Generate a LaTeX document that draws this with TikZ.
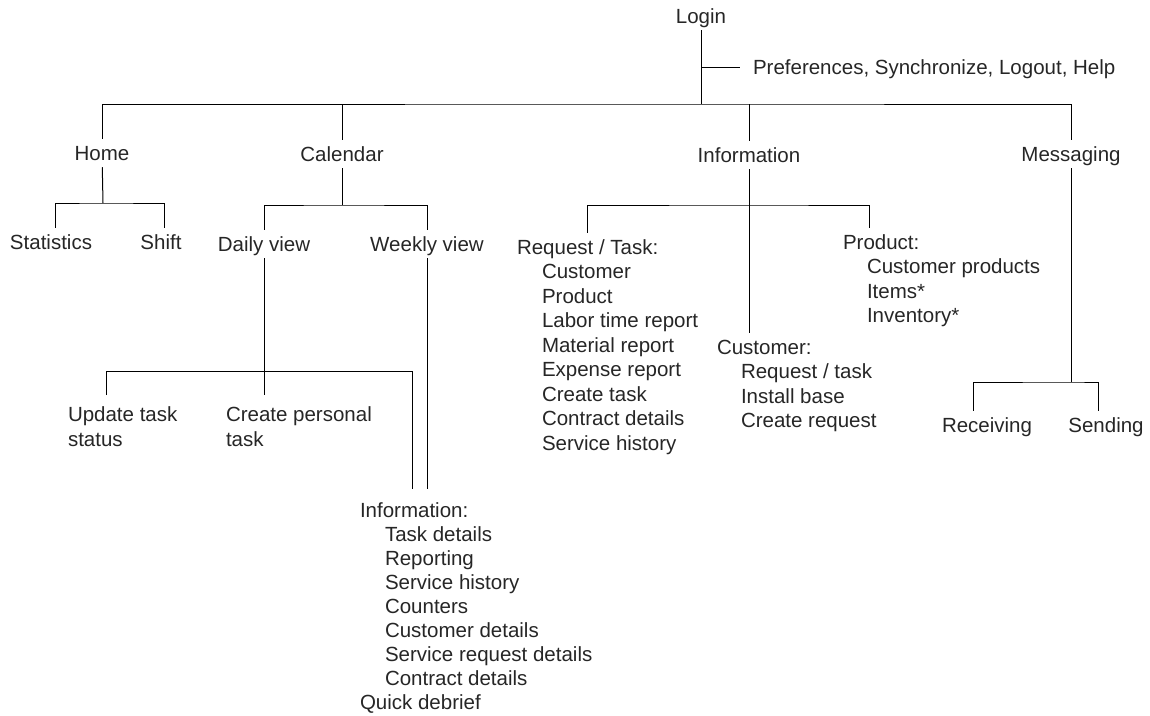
\documentclass[tikz,border=0pt]{standalone}
\usepackage{fontspec}
\setmainfont{Liberation Sans}
\usepackage{tikz}
\usetikzlibrary{calc}

\tikzset{
  lbl/.style={inner sep=0pt, outer sep=7pt, text height=14.5pt, text depth=0pt},
  sub/.style={lbl, anchor=west},
  twoline/.style={inner sep=0pt, outer sep=12pt, align=left, anchor=north west}
}

\begin{document}
\begin{tikzpicture}[x=1pt,y=-1pt,font=\fontsize{20.5}{24.5}\selectfont,line width=1pt,text=black!85]
\useasboundingbox (0,0) rectangle (1150,715);

% top level
\node[lbl] (login) at (701,16) {Login};
\node[sub] (prefs) at (746,67) {Preferences, Synchronize, Logout, Help};
\coordinate (top) at (701,104);
\node[lbl] (home) at (102,153) {Home};
\node[lbl] (cal) at (342,154) {Calendar};
\node[lbl] (info) at (749,155) {Information};
\node[lbl] (msg) at (1071,154) {Messaging};

\draw (login) -- (top);
\draw (login |- prefs) -- ([xshift=-6pt]prefs.west);
\draw (home) |- (top) -| (msg);
\draw (cal) -- (cal |- top);
\draw (info) -- (info |- top);

% home
\coordinate (hj) at (103,203);
\node[lbl] (stats) at (51,242) {Statistics};
\node[lbl] (shft) at (161,242) {Shift};
\draw (home) -- (hj);
\draw ([xshift=4pt]stats.north) |- (hj) -| ([xshift=3pt]shft.north);

% calendar
\coordinate (cj) at (342,205);
\node[lbl] (daily) at (264,244) {Daily view};
\node[lbl] (weekly) at (427,244) {Weekly view};
\draw (cal) -- (cj);
\draw (daily) |- (cj) -| (weekly);

\node[twoline] (upd) at (56,395) {Update task\\status};
\node[twoline] (cpt) at (214,395) {Create personal\\task};
\coordinate (uj) at (106,371);
\coordinate (ij) at (412,371);
\node[sub, outer sep=14pt] (ib) at (346,510) {Information:};
\draw (daily) -- (daily |- cpt.north);
\draw (uj |- upd.north) -- (uj) -- (ij) -- (ij |- ib.north);
\draw (weekly) -- (weekly |- ib.north);

\foreach \lab [count=\i] in {Task details, Reporting, Service history, Counters,
    Customer details, Service request details, Contract details}
  \node[sub] (ib\i) at (378,510+24*\i) {\lab};
\node[sub] (qd) at (353,702) {Quick debrief};

% information
\coordinate (ifj) at (749,205);
\node[sub] (rt) at (510,247) {Request / Task:};
\node[sub] (cust) at (710,347) {Customer:};
\node[sub] (prod) at (836,242) {Product:};
\draw (info) -- (info |- cust.north);
\draw (rt) |- (ifj) -| ([xshift=-12pt]prod.north);

\foreach \lab [count=\i] in {Customer, Product, Labor time report, Material report,
    Expense report, Create task, Contract details, Service history}
  \node[sub] (rt\i) at (535,247+24.5*\i) {\lab};
\foreach \lab [count=\i] in {Request / task, Install base, Create request}
  \node[sub] (cust\i) at (734,347+24.5*\i) {\lab};
\foreach \lab [count=\i] in {Customer products, Items*, Inventory*}
  \node[sub] (prod\i) at (860,242+24.5*\i) {\lab};

% messaging
\coordinate (mj) at (1071,382);
\node[lbl] (recv) at (987,425) {Receiving};
\node[lbl] (send) at (1106,425) {Sending};
\draw (msg) -- (mj);
\draw ([xshift=-14pt]recv.north) |- (mj) -| ([xshift=-8pt]send.north);

\end{tikzpicture}
\end{document}
